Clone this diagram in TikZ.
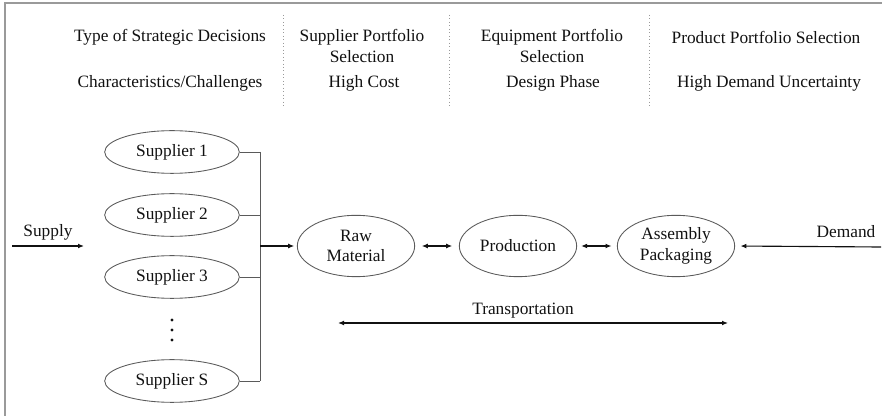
\documentclass[tikz,border=0pt]{standalone}
\usepackage{fontspec}
\setmainfont{Liberation Serif}
\usetikzlibrary{shapes.geometric,arrows.meta}
\definecolor{ink}{HTML}{111111}
\definecolor{frame}{HTML}{9A9A9A}
\definecolor{edge}{HTML}{5A5A5A}
\tikzset{
  lbl/.style={font=\fontsize{13}{15.5}\selectfont, text=ink, inner sep=0pt, align=center},
  oval/.style={ellipse, draw=edge, line width=0.65pt, inner sep=0pt, font=\fontsize{13}{15.5}\selectfont, text=ink, align=center},
  wire/.style={draw=edge, line width=0.7pt},
  flow/.style={draw=ink, line width=0.85pt, -{Latex[length=4.5pt,width=3.6pt]}},
  flow2/.style={draw=ink, line width=0.85pt, {Latex[length=4.5pt,width=3.6pt]}-{Latex[length=4.5pt,width=3.6pt]}},
  sep/.style={draw=frame, line width=0.6pt, dotted},
}
\begin{document}
\begin{tikzpicture}[x=0.75pt,y=-0.75pt]
\useasboundingbox (0,0) rectangle (882,416);
% outer frame (top and left edges only)
\draw[frame, line width=1.6pt] (5,416) -- (5,3) -- (882,3);

% header columns
\draw[sep] (283,15) -- (283,106);
\draw[sep] (449,15) -- (449,106);
\draw[sep] (649,15) -- (649,106);

\node[lbl] (h1) at (170,37) {Type of Strategic Decisions};
\node[lbl] (h2) at (362,46) {Supplier Portfolio\\Selection};
\node[lbl] (h3) at (552,46) {Equipment Portfolio\\Selection};
\node[lbl] (h4) at (766,37) {Product Portfolio Selection};

\node[lbl] (c1) at (170,83) {Characteristics/Challenges};
\node[lbl] (c2) at (364,83) {High Cost};
\node[lbl] (c3) at (553,83) {Design Phase};
\node[lbl] (c4) at (769,83) {High Demand Uncertainty};

% suppliers
\node[oval, minimum width=101pt, minimum height=32pt] (s1) at (172,152) {Supplier 1};
\node[oval, minimum width=101pt, minimum height=32pt] (s2) at (172,215) {Supplier 2};
\node[oval, minimum width=101pt, minimum height=32pt] (s3) at (172,277) {Supplier 3};
\node[oval, minimum width=101pt, minimum height=32pt] (sS) at (172,381) {Supplier S};
\fill[ink] (172,320) circle (1.3pt) (172,330) circle (1.3pt) (172,340) circle (1.3pt);

% collecting bus
\coordinate (bustop) at (260,152);
\coordinate (busbot) at (260,381);
\coordinate (busout) at (260,246);
\draw[wire] (s1.east) -- (s1.east -| bustop);
\draw[wire] (s2.east) -- (s2.east -| bustop);
\draw[wire] (s3.east) -- (s3.east -| bustop);
\draw[wire] (sS.east) -- (sS.east -| busbot);
\draw[wire] (bustop) -- (busbot);

% chain
\node[oval, minimum width=88pt, minimum height=46pt] (raw) at (356,246) {Raw\\Material};
\node[oval, minimum width=88pt, minimum height=46pt] (prod) at (518,246) {Production};
\node[oval, minimum width=88pt, minimum height=46pt] (asm) at (676,246) {Assembly\\Packaging};

\draw[flow, shorten >=2pt] (busout) -- (raw.west);
\draw[flow2, shorten <=5pt, shorten >=5pt] (raw.east) -- (prod.west);
\draw[flow2, shorten <=3pt, shorten >=4pt] (prod.east) -- (asm.west);

% supply and demand
\coordinate (supa) at (12,246);
\coordinate (supb) at (84,246);
\draw[flow] (supa) -- (supb);
\node[lbl] (supply) at (48,232) {Supply};

\coordinate (dema) at (881,247);
\draw[flow, shorten >=4pt] (dema) -- (asm.east);
\node[lbl] (demand) at (846,232) {Demand};

% transportation
\coordinate (tl) at (338,323);
\coordinate (tr) at (728,323);
\draw[flow2] (tl) -- (tr);
\node[lbl] (trans) at (523,311) {Transportation};
\end{tikzpicture}
\end{document}
